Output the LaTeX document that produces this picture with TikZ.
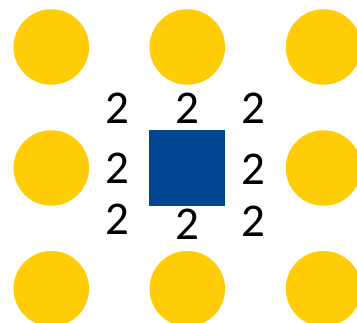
\documentclass[tikz,border=0pt]{standalone}
\usepackage{fontspec}
\setmainfont{Carlito}
\definecolor{dotyellow}{HTML}{FFCC08}
\definecolor{boxblue}{HTML}{00458F}
\begin{document}
\begin{tikzpicture}[x=1pt,y=-1pt,
  dot/.style={circle,fill=dotyellow,draw=none,minimum size=75.5pt,inner sep=0pt},
  blk/.style={rectangle,fill=boxblue,draw=none,minimum size=76pt,inner sep=0pt},
  num/.style={inner sep=0pt,text height=29.7pt,text depth=0pt,anchor=center,font=\fontsize{47}{50}\selectfont}]
\useasboundingbox (0,0) rectangle (357,323);
\node[dot] (c11) at (51.3,47) {};
\node[dot] (c12) at (187.3,47) {};
\node[dot] (c13) at (323.5,47) {};
\node[dot] (c21) at (51.3,168) {};
\node[dot] (c23) at (323.5,168) {};
\node[dot] (c31) at (51.3,288.7) {};
\node[dot] (c32) at (187.3,288.7) {};
\node[dot] (c33) at (323.5,288.7) {};
\node[blk] (sq) at (187,168) {};
\node[num] (n1) at (117.5,109) {2};
\node[num] (n2) at (187,109) {2};
\node[num] (n3) at (253.3,109) {2};
\node[num] (n4) at (117.5,168.7) {2};
\node[num] (n5) at (253.3,169.8) {2};
\node[num] (n6) at (117.5,220) {2};
\node[num] (n7) at (187,225) {2};
\node[num] (n8) at (253.3,221.7) {2};
\end{tikzpicture}
\end{document}
